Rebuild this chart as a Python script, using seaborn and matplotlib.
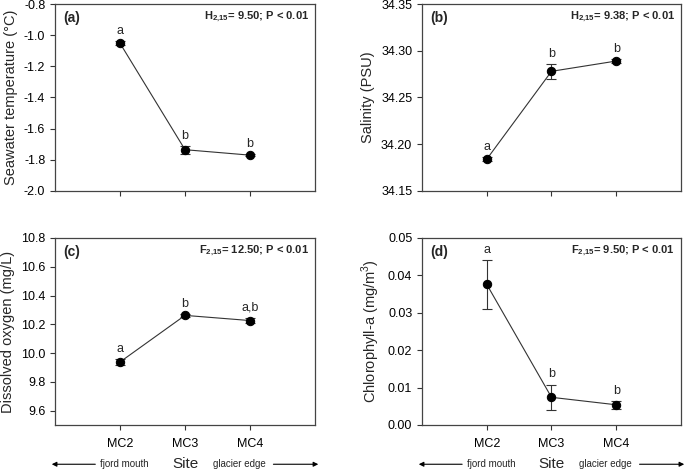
import matplotlib
matplotlib.use("Agg")
import matplotlib.pyplot as plt
import seaborn as sns
import pandas as pd

# site order from fjord mouth to glacier edge
sites = ["MC2", "MC3", "MC4"]

temp_mean = [-1.052, -1.735, -1.770]
temp_err = [0.014, 0.025, 0.008]
temp_letters = ["a", "b", "b"]

sal_mean = [34.184, 34.278, 34.289]
sal_err = [0.002, 0.008, 0.002]
sal_letters = ["a", "b", "b"]

do_mean = [9.938, 10.262, 10.226]
do_err = [0.018, 0.008, 0.018]
do_letters = ["a", "b", "a,b"]

chl_mean = [0.0376, 0.0074, 0.0054]
chl_err = [0.0066, 0.0034, 0.0010]
chl_letters = ["a", "b", "b"]

sns.set_style("ticks")
plt.rcParams["font.family"] = ["Liberation Sans", "DejaVu Sans"]
plt.rcParams["mathtext.fontset"] = "custom"
plt.rcParams["mathtext.rm"] = "Liberation Sans"
plt.rcParams["mathtext.bf"] = "Liberation Sans:bold"

fig = plt.figure(figsize=(6.91, 4.71), dpi=100)

panels = [
    # mean, err, letters, tag, stat, ylabel, ylim, yticks, fmt, rect
    (temp_mean, temp_err, temp_letters, "(a)", r"$\mathbf{H_{2{,}15}}$= 9.50; P < 0.01",
     "Seawater temperature (°C)", (-2.0, -0.8), [-2.0, -1.8, -1.6, -1.4, -1.2, -1.0, -0.8], "{:.1f}",
     [0.0796, 0.5945, 0.3763, 0.397]),
    (sal_mean, sal_err, sal_letters, "(b)", r"$\mathbf{H_{2{,}15}}$= 9.38; P < 0.01",
     "Salinity (PSU)", (34.15, 34.35), [34.15, 34.20, 34.25, 34.30, 34.35], "{:.2f}",
     [0.6107, 0.5945, 0.3748, 0.397]),
    (do_mean, do_err, do_letters, "(c)", r"$\mathbf{F_{2{,}15}}$= 12.50; P < 0.01",
     "Dissolved oxygen (mg/L)", (9.5, 10.8), [9.6, 9.8, 10.0, 10.2, 10.4, 10.6, 10.8], "{:.1f}",
     [0.0796, 0.0977, 0.3763, 0.397]),
    (chl_mean, chl_err, chl_letters, "(d)", r"$\mathbf{F_{2{,}15}}$= 9.50; P < 0.01",
     r"Chlorophyll-a (mg/m$^3$)", (0.0, 0.05), [0.0, 0.01, 0.02, 0.03, 0.04, 0.05], "{:.2f}",
     [0.6107, 0.0977, 0.3748, 0.397]),
]

for i, (mean, err, letters, tag, stat, ylabel, ylim, yticks, fmt, rect) in enumerate(panels):
    ax = fig.add_axes(rect)
    df = pd.DataFrame({"site": sites, "value": mean})
    sns.lineplot(data=df, x="site", y="value", ax=ax, color="#333333", lw=0.8,
                 marker="o", markersize=6, markerfacecolor="black",
                 markeredgecolor="black", zorder=3)
    ax.errorbar(sites, mean, yerr=err, fmt="none", ecolor="#333333",
                elinewidth=0.8, capsize=3.5, capthick=0.8, zorder=2)
    for s, m, e, t in zip(sites, mean, err, letters):
        ax.annotate(t, (s, m + e), xytext=(0, 3), textcoords="offset points",
                    ha="center", va="bottom", fontsize=9)
    ax.set_xlim(-1, 3)
    ax.set_ylim(*ylim)
    ax.set_yticks(yticks)
    ax.set_yticklabels([fmt.format(v) for v in yticks], fontsize=9)
    ax.set_ylabel(ylabel, fontsize=10.5)
    ax.set_xlabel("")
    ax.tick_params(direction="out", length=3.5, width=0.8, colors="#333333")
    ax.tick_params(axis="both", labelcolor="black")
    for sp in ax.spines.values():
        sp.set_visible(True)
        sp.set_color("#444444")
        sp.set_linewidth(0.9)
    ax.text(0.03, 0.925, tag, transform=ax.transAxes, fontsize=10,
            fontweight="bold", ha="left", va="center")
    ax.text(0.977, 0.93, stat, transform=ax.transAxes, fontsize=8,
            fontweight="bold", ha="right", va="center")
    if i < 2:
        ax.set_xticklabels([])
    else:
        ax.set_xticklabels(sites, fontsize=9)
        ax.tick_params(axis="x", pad=6)
        xt = ax.get_xaxis_transform()
        ax.annotate("", xy=(-1.05, -0.21), xytext=(-0.38, -0.21),
                    xycoords=xt, textcoords=xt, annotation_clip=False,
                    arrowprops=dict(arrowstyle="-|>", color="black", lw=0.8,
                                    mutation_scale=7, shrinkA=0, shrinkB=0))
        ax.text(0.07, -0.21, "fjord mouth", transform=xt,
                ha="center", va="center", fontsize=7)
        ax.text(1.0, -0.21, "Site", transform=xt,
                ha="center", va="center", fontsize=11)
        ax.text(1.83, -0.21, "glacier edge", transform=xt,
                ha="center", va="center", fontsize=7)
        ax.annotate("", xy=(3.05, -0.21), xytext=(2.36, -0.21),
                    xycoords=xt, textcoords=xt, annotation_clip=False,
                    arrowprops=dict(arrowstyle="-|>", color="black", lw=0.8,
                                    mutation_scale=7, shrinkA=0, shrinkB=0))

fig.savefig("out.png", dpi=100)
